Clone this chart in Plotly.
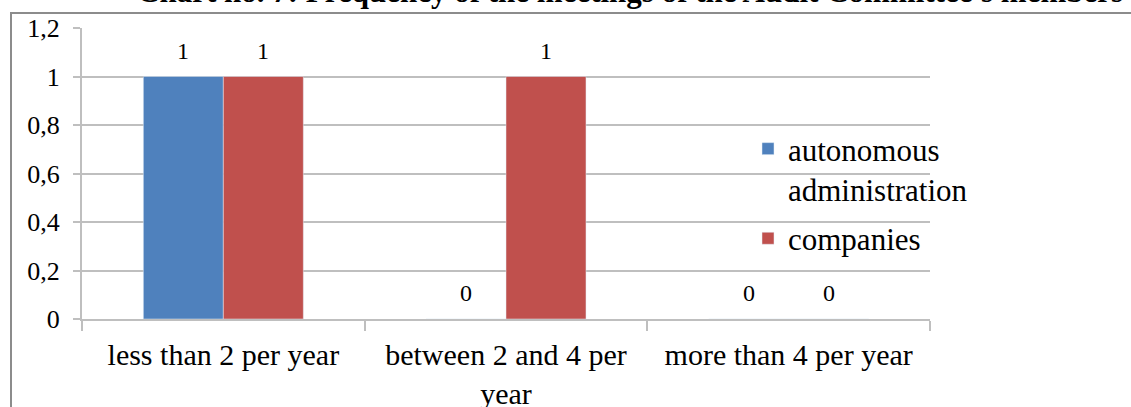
import plotly.graph_objects as go

# Chart data
categories = ["less than 2 per year", "between 2 and 4 per<br>year", "more than 4 per year"]
autonomous_administration = [1, 0, 0]
companies = [1, 1, 0]
y_ticks = [0, 0.2, 0.4, 0.6, 0.8, 1, 1.2]
y_tick_labels = ["0", "0,2", "0,4", "0,6", "0,8", "1", "1,2"]
title_text = "Chart no. 7: Frequency of the meetings of the Audit Committee's members"

W, H = 1131, 407
L, R, T, B = 82, 201, 28, 88
plot_w, plot_h = W - L - R, H - T - B

serif = "Times New Roman"
blue = "#4F81BD"
red = "#C0504D"
grid = "#BFBFBF"

fig = go.Figure()
fig.add_trace(go.Bar(
    x=categories, y=autonomous_administration,
    name="autonomous<br>administration", marker_color=blue,
    legendgroup="a",
))
fig.add_trace(go.Bar(
    x=categories, y=companies,
    name="companies", marker_color=red,
    legendgroup="b",
))

# value labels above each bar
bar_px = plot_w / 3 * (1 - 0.434) / 2
for series, shift in ((autonomous_administration, -bar_px / 2), (companies, bar_px / 2)):
    for cat, val in zip(categories, series):
        fig.add_annotation(
            x=cat, y=val, xref="x", yref="y",
            text=str(val), showarrow=False,
            xshift=shift, yshift=26, yanchor="middle",
            font=dict(family=serif, size=24, color="#000000"),
        )

# partially visible title above the frame
fig.add_annotation(
    x=(630 - L) / plot_w, y=(H - B - 11) / plot_h, xref="paper", yref="paper",
    text="<b>" + title_text + "</b>", showarrow=False,
    xanchor="center", yanchor="bottom",
    font=dict(family=serif, size=31, color="#000000"),
)

# outer frame around the chart
fig.add_shape(
    type="rect", xref="paper", yref="paper",
    x0=(11 - L) / plot_w, x1=2.0,
    y0=-2.0, y1=(H - B - 13) / plot_h,
    line=dict(color="#8C8C8C", width=2), fillcolor="rgba(0,0,0,0)",
    layer="below",
)

fig.update_layout(
    width=W, height=H,
    margin=dict(l=L, r=R, t=T, b=B, pad=0, autoexpand=False),
    paper_bgcolor="white", plot_bgcolor="white",
    barmode="group", bargap=0.434, bargroupgap=0,
    showlegend=True,
    legend=dict(
        x=(748 - L) / plot_w, y=(H - B - 122) / plot_h,
        xanchor="left", yanchor="top",
        font=dict(family=serif, size=31, color="#000000"),
        bgcolor="rgba(0,0,0,0)", tracegroupgap=6,
        itemwidth=30, valign="top",
    ),
    font=dict(family=serif, color="#000000"),
)

fig.update_xaxes(
    type="category", automargin=False,
    showline=True, linecolor=grid, linewidth=2,
    ticks="outside", tickson="boundaries", ticklen=10,
    tickcolor=grid, tickwidth=2,
    showgrid=False,
    ticklabelstandoff=8,
    tickfont=dict(family=serif, size=30, color="#000000"),
)
fig.update_yaxes(
    range=[0, 1.2], automargin=False,
    tickvals=y_ticks, ticktext=y_tick_labels,
    showline=True, linecolor=grid, linewidth=2,
    ticks="outside", ticklen=7, tickcolor=grid, tickwidth=2,
    showgrid=True, gridcolor=grid, gridwidth=2,
    zeroline=False,
    ticklabelstandoff=8,
    tickfont=dict(family=serif, size=26, color="#000000"),
)

fig.write_html("out.html")
